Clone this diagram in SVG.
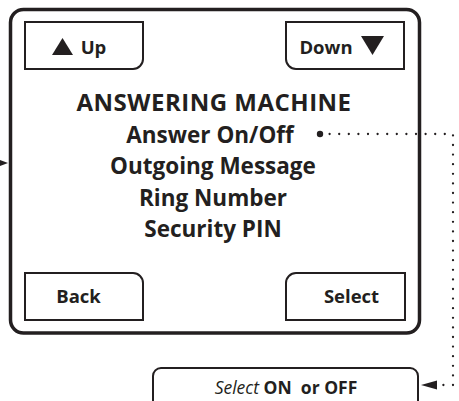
<svg xmlns="http://www.w3.org/2000/svg" width="459" height="401" viewBox="0 0 459 401">
<style>
.t{font-family:"Open Sans","Liberation Sans",sans-serif;font-weight:700;fill:#231f20;text-anchor:middle}
.btn{fill:#fff;stroke:#231f20;stroke-width:2}
.dot{fill:none;stroke:#231f20;stroke-width:2.3;stroke-linecap:round;stroke-dasharray:0 9.6}
</style>
<rect width="459" height="401" fill="#fff"/>
<g id="screen">
<rect x="10.5" y="9.5" width="409" height="323.5" rx="13" fill="#fff" stroke="#231f20" stroke-width="3.5"/>
<text class="t" x="214" y="111" font-size="24" letter-spacing="0.5">ANSWERING MACHINE</text>
<text class="t" x="210" y="143" font-size="22.5">Answer On/Off</text>
<text class="t" x="213" y="174" font-size="22.5">Outgoing Message</text>
<text class="t" x="213" y="206" font-size="22.5">Ring Number</text>
<text class="t" x="213" y="237" font-size="22.5">Security PIN</text>
<circle cx="320" cy="134" r="3.2" fill="#231f20"/>
</g>
<g id="btn-up">
<path class="btn" d="M25,22 H143 V59 A10,10 0 0 1 133,69 H25 Z"/>
<polygon points="52,55 62.5,38 73,55" fill="#231f20"/>
<text class="t" x="93.5" y="54" font-size="18.5">Up</text>
</g>
<g id="btn-down">
<path class="btn" d="M286,22 H404 V69 H296 A10,10 0 0 1 286,59 Z"/>
<polygon points="361,36 384,36 372.5,55" fill="#231f20"/>
<text class="t" x="326" y="54" font-size="18.5">Down</text>
</g>
<g id="btn-back">
<path class="btn" d="M25,320 V273 H133 A10,10 0 0 1 143,283 V320 Z"/>
<text class="t" x="78.5" y="303" font-size="18.5">Back</text>
</g>
<g id="btn-select">
<path class="btn" d="M286,320 V283 A10,10 0 0 1 296,273 H405 V320 Z"/>
<text class="t" x="351.5" y="303" font-size="18.5">Select</text>
</g>
<g id="result">
<path class="btn" d="M153,403 V376 A8,8 0 0 1 161,368 H410 A8,8 0 0 1 418,376 V403"/>
<text class="t" x="286" y="394" font-size="17.5" xml:space="preserve" style="white-space:pre"><tspan font-style="italic" font-weight="400">Select</tspan> ON  or OFF</text>
</g>
<g id="connectors">
<polygon points="0,160 8,163 0,166" fill="#231f20"/>
<path class="dot" d="M329.6,134 H453 V385 H440"/>
<polygon points="421,385 437,380.5 437,389.5" fill="#231f20"/>
</g>
</svg>
